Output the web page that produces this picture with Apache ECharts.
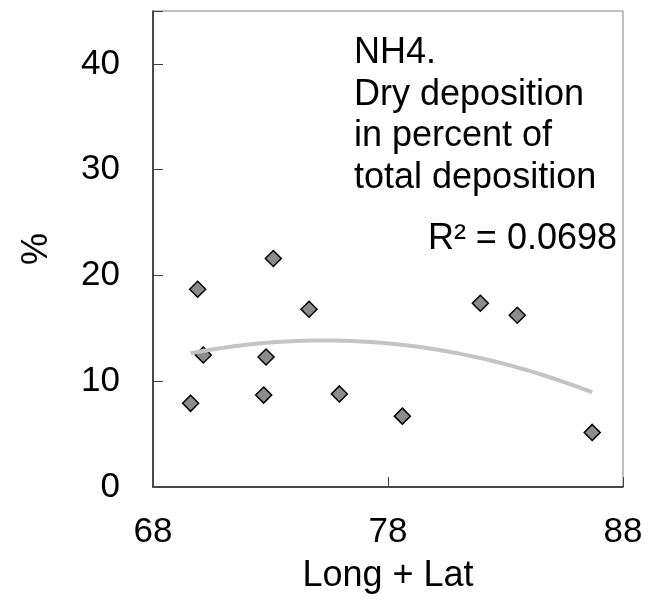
<!DOCTYPE html>
<html>
<head>
<meta charset="utf-8">
<script src="https://cdn.jsdelivr.net/npm/echarts@6/dist/echarts.min.js"></script>
<style>
html,body{margin:0;padding:0;background:#fff;}
#chart{width:659px;height:603px;}
</style>
</head>
<body>
<div id="chart"></div>
<script>
// Data
var longLat = [69.60, 69.90, 70.14, 72.71, 72.81, 73.12, 74.64, 75.93, 78.61, 81.93, 83.50, 86.69];
var dryPercent = [7.91, 18.70, 12.48, 8.69, 12.29, 21.60, 16.80, 8.80, 6.70, 17.37, 16.24, 5.16];
var xTicks = [68, 78, 88];
var yTicks = [0, 10, 20, 30, 40];
var titleLines = ['NH4.', 'Dry deposition', 'in percent of', 'total deposition'];
var r2Label = 'R\u00b2 = 0.0698';

// Polynomial (order 2) least-squares trendline computed from the data
function quadFit(xs, ys) {
  var n = xs.length, mx = 0;
  xs.forEach(function (x) { mx += x; }); mx /= n;
  var S = [0, 0, 0, 0, 0], T = [0, 0, 0];
  for (var i = 0; i < n; i++) {
    var u = xs[i] - mx, p = 1;
    for (var k = 0; k < 5; k++) { S[k] += p; if (k < 3) T[k] += p * ys[i]; p *= u; }
  }
  var A = [[S[0], S[1], S[2], T[0]], [S[1], S[2], S[3], T[1]], [S[2], S[3], S[4], T[2]]];
  for (var c = 0; c < 3; c++) {
    for (var r = c + 1; r < 3; r++) {
      var f = A[r][c] / A[c][c];
      for (var j = c; j < 4; j++) A[r][j] -= f * A[c][j];
    }
  }
  var b = [0, 0, 0];
  for (var r2 = 2; r2 >= 0; r2--) {
    var s = A[r2][3];
    for (var j2 = r2 + 1; j2 < 3; j2++) s -= A[r2][j2] * b[j2];
    b[r2] = s / A[r2][r2];
  }
  return function (x) { var u = x - mx; return b[0] + b[1] * u + b[2] * u * u; };
}
var fit = quadFit(longLat, dryPercent);
var xMin = Math.min.apply(null, longLat), xMax = Math.max.apply(null, longLat);
var trend = [];
for (var i = 0; i <= 80; i++) {
  var x = xMin + (xMax - xMin) * i / 80;
  trend.push([x, fit(x)]);
}

var FONT = '"Liberation Sans", Arial, sans-serif';
var chart = echarts.init(document.getElementById('chart'));
var graphics = titleLines.map(function (t, k) {
  return { type: 'text', left: 354, top: 35 + k * 41.7,
    style: { text: t, font: '36px ' + FONT, fill: '#000' } };
});
graphics.push({ type: 'text', right: 42, top: 221,
  style: { text: r2Label, font: '36px ' + FONT, fill: '#000' } });

chart.setOption({
  animation: false,
  backgroundColor: '#fff',
  grid: { left: 153, top: 11, right: 36, bottom: 116, show: true, borderColor: '#808080', borderWidth: 1,
    containLabel: false, outerBoundsMode: 'none' },
  xAxis: {
    type: 'value', min: xTicks[0], max: xTicks[xTicks.length - 1], interval: xTicks[1] - xTicks[0],
    name: 'Long + Lat', nameLocation: 'middle', nameGap: 71,
    nameTextStyle: { fontFamily: FONT, fontSize: 36, color: '#000' },
    axisLine: { show: true, onZero: false, lineStyle: { color: '#222', width: 1.5 } },
    axisTick: { show: true, inside: true, length: 10, lineStyle: { color: '#444' } },
    axisLabel: { fontFamily: FONT, fontSize: 35, color: '#000', margin: 28 },
    splitLine: { show: false }
  },
  yAxis: {
    type: 'value', min: 0, max: 45, interval: yTicks[1] - yTicks[0],
    name: '%', nameLocation: 'middle', nameGap: 98, nameRotate: 90,
    nameTextStyle: { fontFamily: FONT, fontSize: 36, color: '#000' },
    axisLine: { show: true, lineStyle: { color: '#222', width: 1.5 } },
    axisTick: { show: true, inside: true, length: 10, lineStyle: { color: '#444' } },
    axisLabel: { fontFamily: FONT, fontSize: 35, color: '#000', margin: 33,
      formatter: function (v) { return yTicks.indexOf(v) >= 0 ? String(v) : ''; } },
    splitLine: { show: false }
  },
  graphic: graphics,
  series: [
    {
      type: 'scatter', symbol: 'diamond', symbolSize: 16,
      data: longLat.map(function (x, k) { return [x, dryPercent[k]]; }),
      itemStyle: { color: '#8c8c8c', borderColor: '#000', borderWidth: 1.5, opacity: 1 },
      z: 2
    },
    {
      type: 'line', data: trend, showSymbol: false, smooth: false,
      lineStyle: { color: '#c4c4c4', width: 4 },
      z: 3
    }
  ]
});
</script>
</body>
</html>
